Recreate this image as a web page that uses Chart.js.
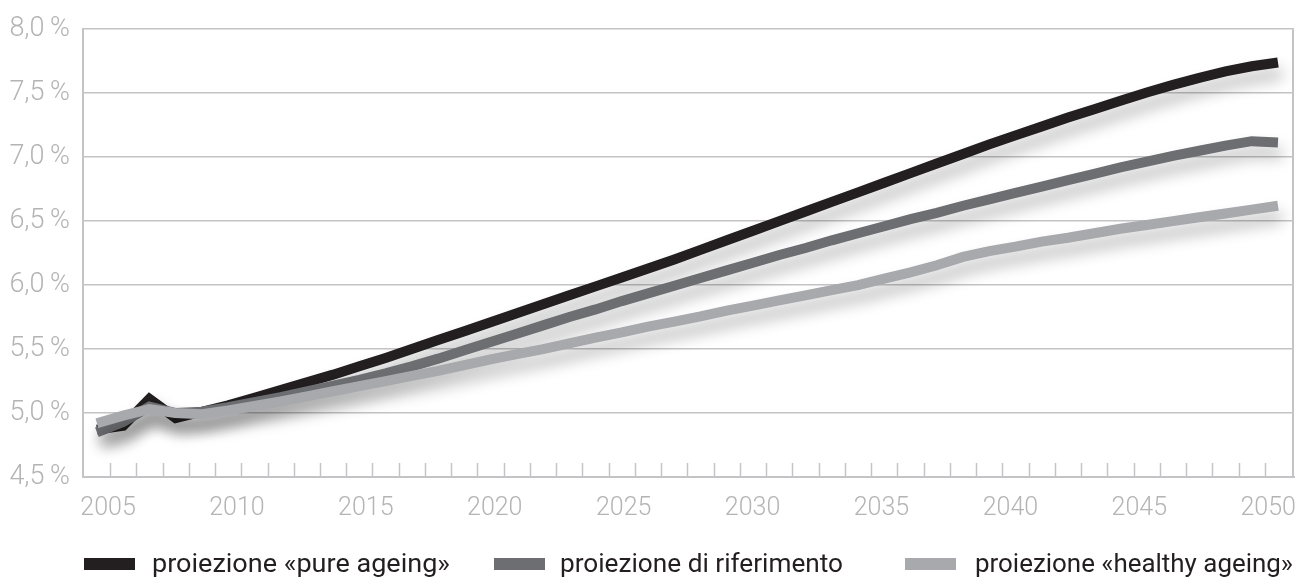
<!DOCTYPE html>
<html>
<head>
<meta charset="utf-8">
<script src="https://cdn.jsdelivr.net/npm/chart.js@4.4.1/dist/chart.umd.min.js"></script>
<style>
  html, body { margin: 0; padding: 0; background: #ffffff; }
  #wrap { width: 1297px; height: 577px; position: relative; }
</style>
</head>
<body>
<div id="wrap"><canvas id="c" width="1297" height="577"></canvas></div>
<script>
// Spesa sanitaria in % del PIL, proiezioni 2005-2050
const years = [2005, 2006, 2007, 2008, 2009, 2010, 2011, 2012, 2013, 2014,
               2015, 2016, 2017, 2018, 2019, 2020, 2021, 2022, 2023, 2024,
               2025, 2026, 2027, 2028, 2029, 2030, 2031, 2032, 2033, 2034,
               2035, 2036, 2037, 2038, 2039, 2040, 2041, 2042, 2043, 2044,
               2045, 2046, 2047, 2048, 2049, 2050];

const pureAgeing = [4.87, 4.90, 5.11, 4.96, 5.01, 5.06, 5.12, 5.18, 5.24, 5.30,
                    5.365, 5.43, 5.50, 5.57, 5.64, 5.71, 5.78, 5.85, 5.92, 5.99,
                    6.06, 6.13, 6.20, 6.275, 6.35, 6.425, 6.50, 6.575, 6.65, 6.725,
                    6.80, 6.875, 6.95, 7.025, 7.10, 7.17, 7.24, 7.31, 7.375, 7.44,
                    7.505, 7.565, 7.62, 7.67, 7.71, 7.74];

const riferimento = [4.85, 4.93, 5.05, 5.00, 5.01, 5.045, 5.085, 5.125, 5.17, 5.215,
                     5.26, 5.31, 5.365, 5.425, 5.49, 5.555, 5.62, 5.685, 5.75, 5.81,
                     5.875, 5.935, 5.995, 6.055, 6.115, 6.175, 6.235, 6.29, 6.35, 6.405,
                     6.46, 6.515, 6.565, 6.62, 6.67, 6.72, 6.77, 6.82, 6.87, 6.92,
                     6.965, 7.01, 7.05, 7.09, 7.125, 7.115];

const healthyAgeing = [4.92, 4.98, 5.03, 5.00, 4.99, 5.02, 5.055, 5.09, 5.13, 5.17,
                       5.21, 5.25, 5.29, 5.33, 5.375, 5.42, 5.46, 5.50, 5.545, 5.59,
                       5.63, 5.675, 5.715, 5.755, 5.80, 5.84, 5.88, 5.92, 5.96, 6.00,
                       6.05, 6.10, 6.155, 6.22, 6.265, 6.30, 6.34, 6.37, 6.405, 6.44,
                       6.47, 6.50, 6.53, 6.56, 6.59, 6.62];

const seriesLabels = ['proiezione «pure ageing»', 'proiezione di riferimento', 'proiezione «healthy ageing»'];
const seriesColors = ['#231f20', '#6d6e71', '#a7a9ac'];
const yearLabels = [2005, 2010, 2015, 2020, 2025, 2030, 2035, 2040, 2045, 2050];

const AXIS_GREY = '#c4c4c6';
const LABEL_GREY = '#b4b4b6';
const FONT = 'Roboto, "DejaVu Sans", sans-serif';

// legend row layout: swatch left edge, text left edge, text width
const legendLayout = [
  { box: 84, text: 152, width: 298 },
  { box: 494, text: 560, width: 283 },
  { box: 905, text: 975, width: 318 }
];

function toPoints(values) {
  return years.map((y, i) => ({ x: y, y: values[i] }));
}

// soft drop shadow under each line
const lineShadow = {
  id: 'lineShadow',
  beforeDatasetDraw(chart) {
    const ctx = chart.ctx;
    ctx.save();
    ctx.shadowColor = 'rgba(0,0,0,0.28)';
    ctx.shadowBlur = 15;
    ctx.shadowOffsetX = 4;
    ctx.shadowOffsetY = 11;
  },
  afterDatasetDraw(chart) {
    chart.ctx.restore();
  }
};

// yearly tick marks inside the plot, right frame edge, and the legend row
const frameAndLegend = {
  id: 'frameAndLegend',
  beforeDatasetsDraw(chart) {
    const { ctx, chartArea: a, scales } = chart;
    const xs = scales.x;
    ctx.save();
    ctx.strokeStyle = AXIS_GREY;
    ctx.lineWidth = 1.5;
    for (let i = 0; i < years.length - 1; i++) {
      const px = Math.round(xs.getPixelForValue(years[i] + 0.5)) + 0.5;
      ctx.beginPath();
      ctx.moveTo(px, a.bottom);
      ctx.lineTo(px, a.bottom - 14);
      ctx.stroke();
    }
    ctx.lineWidth = 2;
    ctx.beginPath();
    ctx.moveTo(a.right - 1, a.top);
    ctx.lineTo(a.right - 1, a.bottom);
    ctx.stroke();
    ctx.restore();
  },
  afterDraw(chart) {
    const ctx = chart.ctx;
    const yMid = 564;
    ctx.save();
    ctx.font = '26px ' + FONT;
    ctx.textBaseline = 'middle';
    ctx.textAlign = 'left';
    chart.data.datasets.forEach((ds, i) => {
      const L = legendLayout[i];
      ctx.fillStyle = ds.borderColor;
      ctx.fillRect(L.box, yMid - 6, 51, 12);
      ctx.fillStyle = '#231f20';
      const w = ctx.measureText(ds.label).width;
      ctx.save();
      ctx.translate(L.text, yMid);
      ctx.scale(L.width / w, 1);
      ctx.fillText(ds.label, 0, 1);
      ctx.restore();
    });
    ctx.restore();
  }
};

const datasets = [pureAgeing, riferimento, healthyAgeing].map((vals, i) => ({
  label: seriesLabels[i],
  data: toPoints(vals),
  borderColor: seriesColors[i],
  backgroundColor: seriesColors[i],
  borderWidth: 10,
  borderCapStyle: 'butt',
  borderJoinStyle: 'miter',
  pointRadius: 0,
  tension: 0,
  fill: false,
  order: 3 - i
}));

new Chart(document.getElementById('c'), {
  type: 'line',
  data: { datasets },
  plugins: [lineShadow, frameAndLegend],
  options: {
    responsive: false,
    animation: false,
    events: [],
    layout: { padding: { top: 20, right: 3, bottom: 57, left: 0 } },
    plugins: { legend: { display: false }, tooltip: { enabled: false } },
    scales: {
      // data axis: one unit per year
      x: {
        type: 'linear',
        position: 'bottom',
        min: 2004.47,
        max: 2050.61,
        afterFit(scale) {
          scale.height = 0;
          scale.paddingLeft = 0;
          scale.paddingRight = 0;
        },
        grid: { drawOnChartArea: false, drawTicks: false },
        border: { display: true, color: AXIS_GREY, width: 2 },
        ticks: { display: false }
      },
      // year labels printed under the frame
      years: {
        type: 'linear',
        position: 'bottom',
        min: 2004.03,
        max: 2051.0,
        afterBuildTicks(scale) {
          scale.ticks = yearLabels.map(v => ({ value: v }));
        },
        afterFit(scale) {
          scale.height = 43;
          scale.paddingLeft = 0;
          scale.paddingRight = 0;
        },
        grid: { display: false, drawTicks: false },
        border: { display: false },
        ticks: {
          color: LABEL_GREY,
          font: { family: FONT, size: 25, weight: 300 },
          padding: 17,
          maxRotation: 0,
          autoSkip: false,
          callback: v => String(v)
        }
      },
      y: {
        min: 4.5,
        max: 8.0,
        afterFit(scale) { scale.width = 83; },
        grid: { color: AXIS_GREY, lineWidth: 1.5, drawTicks: false },
        border: { display: true, color: AXIS_GREY, width: 2 },
        ticks: {
          stepSize: 0.5,
          color: LABEL_GREY,
          font: { family: FONT, size: 27, weight: 300 },
          padding: 13,
          callback: v => v.toFixed(1).replace('.', ',') + '\u2009%'
        }
      }
    }
  }
});
</script>
</body>
</html>
